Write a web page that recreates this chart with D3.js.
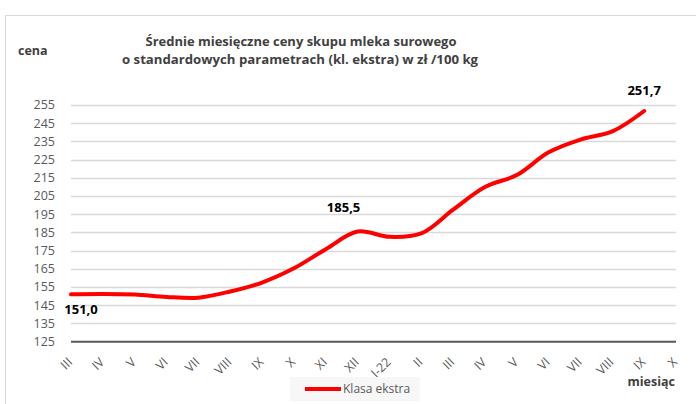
<!DOCTYPE html>
<html>
<head>
<meta charset="utf-8">
<script src="https://cdn.jsdelivr.net/npm/d3@7"></script>
<style>
  body { margin: 0; background: #fff; }
  svg { display: block; font-family: "Open Sans", sans-serif; }
</style>
</head>
<body>
<div id="chart"></div>
<script>
const months = ["III", "IV", "V", "VI", "VII", "VIII", "IX", "X", "XI", "XII", "I-22",
  "II", "III", "IV", "V", "VI", "VII", "VIII", "IX", "X"];
const prices = [151.0, 151.2, 150.9, 149.6, 149.2, 152.6, 157.5, 165.3, 175.8, 185.5, 182.6,
  184.5, 197.5, 210.0, 216.5, 229.0, 236.0, 240.5, 251.7];
const yTicks = [125, 135, 145, 155, 165, 175, 185, 195, 205, 215, 225, 235, 245, 255];
const labelled = [
  { i: 0, text: "151,0", dx: 10, dy: 20 },
  { i: 9, text: "185,5", dx: -14, dy: -20 },
  { i: 18, text: "251,7", dx: 0, dy: -16 }
];

const W = 696, H = 404;
const plotLeft = 71, plotRight = 676, plotTop = 105, plotBottom = 341.7;

const svg = d3.select("#chart").append("svg")
  .attr("width", W)
  .attr("height", H);

// chart frame
svg.append("rect")
  .attr("x", 5.5).attr("y", 15.5)
  .attr("width", W + 10).attr("height", H + 10)
  .attr("fill", "none")
  .attr("stroke", "#d9d9d9");

const x = d3.scalePoint().domain(d3.range(months.length)).range([plotLeft, plotRight]);
const y = d3.scaleLinear().domain([125, 255]).range([plotBottom, plotTop]);

// gridlines
svg.append("g")
  .selectAll("line")
  .data(yTicks.slice(1))
  .join("line")
  .attr("x1", plotLeft).attr("x2", plotRight)
  .attr("y1", d => Math.round(y(d)) + 0.5)
  .attr("y2", d => Math.round(y(d)) + 0.5)
  .attr("stroke", "#d9d9d9")
  .attr("stroke-width", 1.3);

// y labels
svg.append("g")
  .selectAll("text")
  .data(yTicks)
  .join("text")
  .attr("x", 55)
  .attr("y", d => y(d))
  .attr("dy", "0.35em")
  .attr("text-anchor", "end")
  .attr("font-size", 12.5)
  .attr("fill", "#595959")
  .text(d => d);

// category axis line
svg.append("line")
  .attr("x1", plotLeft).attr("x2", plotRight)
  .attr("y1", y(125)).attr("y2", y(125))
  .attr("stroke", "#595959")
  .attr("stroke-width", 2);

// month labels
svg.append("g")
  .selectAll("text")
  .data(months)
  .join("text")
  .attr("transform", (d, i) => `translate(${x(i) - 4},${y(125) + 15}) rotate(-45)`)
  .attr("dy", "0.7em")
  .attr("text-anchor", "end")
  .attr("font-size", 12.5)
  .attr("fill", "#595959")
  .text(d => d);

// price line
const line = d3.line()
  .x((d, i) => x(i))
  .y(d => y(d))
  .curve(d3.curveCatmullRom.alpha(0.5));

svg.append("path")
  .datum(prices)
  .attr("d", line)
  .attr("fill", "none")
  .attr("stroke", "#ff0000")
  .attr("stroke-width", 4)
  .attr("stroke-linecap", "round");

// data labels
svg.append("g")
  .selectAll("text")
  .data(labelled)
  .join("text")
  .attr("x", d => x(d.i) + d.dx)
  .attr("y", d => y(prices[d.i]) + d.dy)
  .attr("text-anchor", "middle")
  .attr("font-size", 13)
  .attr("font-weight", "bold")
  .attr("fill", "#000")
  .text(d => d.text);

// title
const title = svg.append("g")
  .attr("font-size", 13)
  .attr("font-weight", "bold")
  .attr("fill", "#404040")
  .attr("text-anchor", "middle");
title.append("text").attr("x", 301).attr("y", 46)
  .attr("textLength", 311).attr("lengthAdjust", "spacingAndGlyphs")
  .text("Średnie miesięczne ceny skupu mleka surowego");
title.append("text").attr("x", 300).attr("y", 64)
  .attr("textLength", 356).attr("lengthAdjust", "spacingAndGlyphs")
  .text("o standardowych parametrach (kl. ekstra) w zł /100 kg");

// axis titles
svg.append("text")
  .attr("x", 18).attr("y", 55)
  .attr("font-size", 12.5).attr("font-weight", "bold").attr("fill", "#404040")
  .text("cena");
svg.append("text")
  .attr("x", 675).attr("y", 386)
  .attr("text-anchor", "end")
  .attr("font-size", 12.5).attr("font-weight", "bold").attr("fill", "#404040")
  .text("miesiąc");

// legend
const legend = svg.append("g").attr("transform", "translate(290,377)");
legend.append("rect")
  .attr("width", 130).attr("height", 24)
  .attr("fill", "#f7f7f7");
legend.append("line")
  .attr("x1", 15).attr("x2", 51).attr("y1", 12).attr("y2", 12)
  .attr("stroke", "#ff0000").attr("stroke-width", 4);
legend.append("text")
  .attr("x", 53).attr("y", 12).attr("dy", "0.35em")
  .attr("font-size", 12).attr("fill", "#595959")
  .text("Klasa ekstra");
</script>
</body>
</html>
